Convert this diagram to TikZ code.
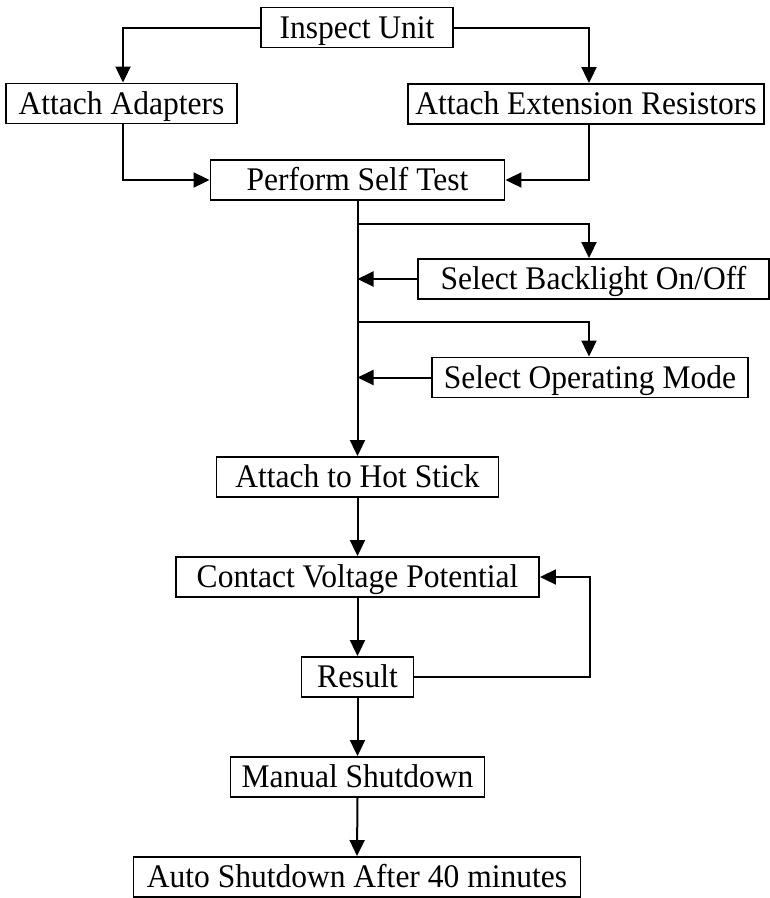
\documentclass[tikz,border=0pt]{standalone}
\usepackage{fontspec}
\setmainfont{Liberation Serif}[FakeStretch=0.955]
\usetikzlibrary{arrows.meta}
\tikzset{
  box/.style={draw, line width=1.9pt, minimum height=40pt, inner sep=0pt,
    text height=21.8pt, text depth=0pt, font=\fontsize{33}{38}\selectfont},
  arr/.style={line width=2pt, -{Triangle[length=16pt,width=15pt]}},
}
\begin{document}
\begin{tikzpicture}[x=1pt,y=-1pt]
\useasboundingbox (0,0) rectangle (770,898);
\node[box, minimum width=192pt] (inspect) at (357,27.5) {Inspect Unit};
\node[box, minimum width=231pt] (adapt) at (121.5,103.5) {Attach Adapters};
\node[box, minimum width=356pt] (ext) at (586,104) {Attach Extension Resistors};
\node[box, minimum width=294pt] (pst) at (357.5,180) {Perform Self Test};
\node[box, minimum width=351pt] (back) at (593.5,279) {Select Backlight On/Off};
\node[box, minimum width=316pt] (mode) at (590,377.5) {Select Operating Mode};
\node[box, minimum width=282pt] (hot) at (357.5,477) {Attach to Hot Stick};
\node[box, minimum width=363pt] (cvp) at (357.5,577) {Contact Voltage Potential};
\node[box, minimum width=112pt] (res) at (357.5,677) {Result};
\node[box, minimum width=254pt] (man) at (357.5,777) {Manual Shutdown};
\node[box, minimum width=447pt] (auto) at (357,877) {Auto Shutdown After 40 minutes};
% top fan-out
\coordinate (lcol) at (123,0);
\coordinate (rcol) at (589,0);
\draw[arr] (inspect.west) -- (inspect.west -| lcol) -- (adapt.north -| lcol);
\draw[arr] (inspect.east) -- (inspect.east -| rcol) -- (ext.north -| rcol);
\draw[arr] (adapt.south -| lcol) -- (pst.west -| lcol) -- (pst.west);
\draw[arr] (ext.south -| rcol) -- (pst.east -| rcol) -- (pst.east);
% main spine
\draw[arr] (pst.south) -- (hot.north);
\coordinate (b1) at (357.5,224);
\coordinate (b2) at (357.5,322);
\draw[arr] (b1) -- (b1 -| rcol) -- (back.north -| rcol);
\draw[arr] (b2) -- (b2 -| rcol) -- (mode.north -| rcol);
\draw[arr] (back.west) -- (back.west -| pst.south);
\draw[arr] (mode.west) -- (mode.west -| pst.south);
% lower chain
\draw[arr] (hot.south) -- (cvp.north);
\draw[arr] (cvp.south) -- (res.north);
\coordinate (fb) at (590,0);
\draw[arr] (res.east) -- (res.east -| fb) -- (cvp.east -| fb) -- (cvp.east);
\draw[arr] (res.south) -- (man.north);
\draw[arr] (man.south) -- (auto.north);
\end{tikzpicture}
\end{document}
